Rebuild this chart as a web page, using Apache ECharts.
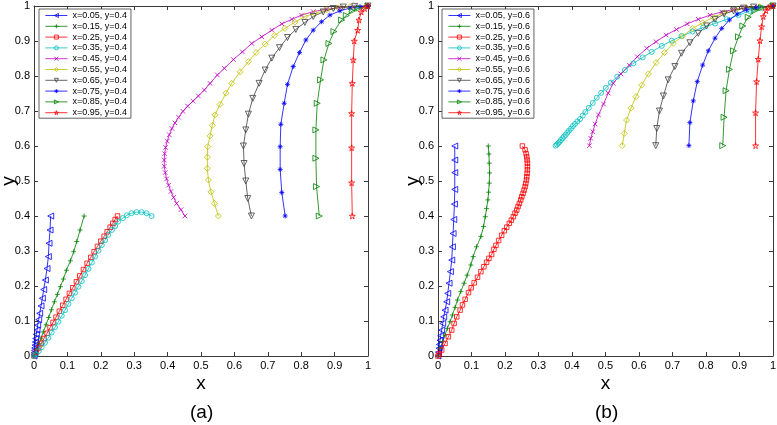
<!DOCTYPE html>
<html><head><meta charset="utf-8">
<script src="https://cdn.jsdelivr.net/npm/echarts@6/dist/echarts.min.js"></script>
<style>html,body{margin:0;padding:0;background:#fff}#c{width:777px;height:425px}</style>
</head><body><div id="c"></div>
<script>
// ---- Panel (a): initial y = 0.4 ----
const a05 = [[0.05,0.4],[0.048,0.36],[0.045,0.322],[0.043,0.284],[0.039,0.25],[0.034,0.217],[0.029,0.19],[0.025,0.165],[0.021,0.143],[0.017,0.122],[0.014,0.104],[0.011,0.088],[0.009,0.074],[0.007,0.062],[0.005,0.05],[0.004,0.04],[0.003,0.031],[0.002,0.023],[0.0015,0.016],[0.001,0.01],[0.0005,0.005],[0,0]];
const a15 = [[0.15,0.4],[0.138,0.36],[0.128,0.327],[0.119,0.298],[0.109,0.272],[0.097,0.245],[0.088,0.22],[0.079,0.198],[0.07,0.176],[0.061,0.155],[0.052,0.132],[0.044,0.11],[0.036,0.089],[0.028,0.069],[0.021,0.051],[0.015,0.035],[0.009,0.021],[0.004,0.009],[0,0]];
const a25 = [[0.25,0.4],[0.243,0.39],[0.236,0.379],[0.228,0.368],[0.219,0.355],[0.21,0.342],[0.2,0.328],[0.19,0.313],[0.18,0.298],[0.17,0.282],[0.159,0.265],[0.148,0.247],[0.137,0.229],[0.127,0.212],[0.116,0.195],[0.106,0.179],[0.096,0.162],[0.086,0.145],[0.076,0.128],[0.066,0.111],[0.057,0.096],[0.048,0.081],[0.039,0.065],[0.03,0.05],[0.022,0.036],[0.014,0.023],[0.007,0.011],[0,0]];
const a35 = [[0.352,0.4],[0.337,0.408],[0.322,0.411],[0.307,0.411],[0.292,0.408],[0.278,0.402],[0.266,0.394],[0.252,0.384],[0.243,0.371],[0.233,0.36],[0.222,0.346],[0.213,0.331],[0.203,0.317],[0.193,0.301],[0.183,0.284],[0.173,0.267],[0.163,0.249],[0.153,0.231],[0.143,0.214],[0.133,0.198],[0.123,0.181],[0.113,0.165],[0.103,0.149],[0.093,0.131],[0.083,0.115],[0.073,0.098],[0.063,0.082],[0.053,0.067],[0.043,0.052],[0.033,0.038],[0.023,0.025],[0.014,0.014],[0.006,0.005],[0,0]];
const a45 = [[0.452,0.4],[0.44,0.418],[0.427,0.436],[0.418,0.453],[0.41,0.47],[0.403,0.488],[0.397,0.506],[0.393,0.524],[0.39,0.542],[0.39,0.56],[0.391,0.578],[0.394,0.596],[0.399,0.614],[0.405,0.632],[0.413,0.65],[0.422,0.666],[0.433,0.682],[0.446,0.699],[0.46,0.714],[0.476,0.728],[0.492,0.743],[0.51,0.76],[0.527,0.779],[0.549,0.803],[0.57,0.822],[0.597,0.847],[0.624,0.869],[0.652,0.893],[0.682,0.912],[0.712,0.931],[0.742,0.949],[0.772,0.962],[0.801,0.974],[0.836,0.984],[0.876,0.991],[0.916,0.995],[0.955,0.998],[1,1]];
const a55 = [[0.552,0.4],[0.54,0.436],[0.53,0.469],[0.522,0.503],[0.519,0.536],[0.519,0.568],[0.52,0.598],[0.527,0.629],[0.534,0.659],[0.542,0.689],[0.557,0.719],[0.575,0.751],[0.592,0.779],[0.617,0.812],[0.642,0.841],[0.665,0.867],[0.692,0.891],[0.72,0.916],[0.751,0.936],[0.781,0.954],[0.811,0.97],[0.841,0.979],[0.876,0.989],[0.91,0.995],[0.946,0.998],[1,1]];
const a65 = [[0.651,0.4],[0.64,0.45],[0.634,0.5],[0.629,0.55],[0.627,0.6],[0.634,0.646],[0.642,0.691],[0.655,0.736],[0.674,0.779],[0.692,0.817],[0.712,0.851],[0.735,0.881],[0.759,0.91],[0.784,0.933],[0.811,0.953],[0.836,0.97],[0.866,0.983],[0.896,0.993],[0.926,0.997],[0.96,0.999],[1,1]];
const a75 = [[0.752,0.4],[0.742,0.467],[0.737,0.533],[0.737,0.598],[0.739,0.662],[0.749,0.722],[0.759,0.776],[0.776,0.827],[0.795,0.867],[0.814,0.903],[0.836,0.931],[0.861,0.955],[0.886,0.974],[0.916,0.986],[0.946,0.994],[0.976,0.998],[1,1]];
const a85 = [[0.854,0.4],[0.846,0.484],[0.844,0.565],[0.844,0.646],[0.848,0.722],[0.858,0.789],[0.868,0.846],[0.883,0.893],[0.898,0.927],[0.921,0.96],[0.935,0.973],[0.953,0.986],[0.973,0.994],[1,1]];
const a95 = [[0.953,0.4],[0.951,0.495],[0.951,0.595],[0.951,0.693],[0.953,0.779],[0.956,0.846],[0.959,0.9],[0.969,0.931],[0.973,0.96],[0.98,0.983],[0.99,0.993],[1,1]];

// ---- Panel (b): initial y = 0.6 ----
const b05 = [[0.05,0.6],[0.05,0.56],[0.05,0.524],[0.05,0.476],[0.049,0.434],[0.047,0.39],[0.045,0.35],[0.043,0.312],[0.041,0.274],[0.037,0.241],[0.033,0.208],[0.029,0.179],[0.026,0.155],[0.021,0.131],[0.017,0.112],[0.014,0.093],[0.011,0.074],[0.008,0.058],[0.006,0.045],[0.004,0.033],[0.003,0.022],[0.0015,0.011],[0,0]];
const b15 = [[0.15,0.6],[0.152,0.577],[0.153,0.551],[0.154,0.523],[0.153,0.494],[0.151,0.468],[0.149,0.446],[0.145,0.421],[0.141,0.398],[0.136,0.37],[0.128,0.341],[0.115,0.312],[0.105,0.284],[0.098,0.26],[0.087,0.231],[0.078,0.208],[0.068,0.184],[0.058,0.16],[0.051,0.139],[0.043,0.117],[0.036,0.098],[0.028,0.079],[0.021,0.06],[0.014,0.041],[0.006,0.022],[0,0]];
const b25 = [[0.252,0.6],[0.26,0.589],[0.263,0.578],[0.265,0.569],[0.266,0.56],[0.267,0.551],[0.267,0.541],[0.267,0.532],[0.266,0.522],[0.265,0.512],[0.264,0.503],[0.262,0.493],[0.26,0.484],[0.257,0.474],[0.254,0.465],[0.25,0.455],[0.247,0.446],[0.243,0.436],[0.239,0.427],[0.235,0.417],[0.23,0.408],[0.225,0.398],[0.219,0.388],[0.213,0.379],[0.205,0.368],[0.198,0.358],[0.19,0.345],[0.181,0.33],[0.173,0.316],[0.167,0.305],[0.16,0.29],[0.152,0.279],[0.145,0.268],[0.137,0.255],[0.128,0.241],[0.118,0.225],[0.108,0.209],[0.099,0.195],[0.091,0.181],[0.081,0.162],[0.073,0.146],[0.066,0.131],[0.056,0.112],[0.048,0.093],[0.041,0.074],[0.031,0.055],[0.021,0.036],[0.011,0.017],[0.004,0.006],[0,0]];
const b35 = [[0.351,0.601],[0.355,0.604],[0.359,0.608],[0.363,0.612],[0.367,0.617],[0.372,0.622],[0.376,0.627],[0.381,0.632],[0.386,0.638],[0.391,0.644],[0.397,0.65],[0.403,0.657],[0.409,0.663],[0.416,0.67],[0.424,0.677],[0.432,0.687],[0.44,0.697],[0.45,0.709],[0.462,0.723],[0.474,0.738],[0.487,0.752],[0.501,0.766],[0.516,0.781],[0.535,0.798],[0.558,0.817],[0.583,0.836],[0.611,0.853],[0.638,0.869],[0.668,0.886],[0.698,0.901],[0.727,0.914],[0.76,0.927],[0.792,0.939],[0.827,0.95],[0.862,0.962],[0.897,0.974],[0.931,0.986],[0.966,0.995],[1,1]];
const b45 = [[0.452,0.601],[0.456,0.622],[0.462,0.641],[0.469,0.663],[0.479,0.689],[0.494,0.72],[0.508,0.751],[0.523,0.779],[0.546,0.806],[0.571,0.831],[0.595,0.855],[0.623,0.879],[0.651,0.898],[0.681,0.917],[0.712,0.933],[0.744,0.949],[0.777,0.962],[0.812,0.974],[0.847,0.983],[0.882,0.99],[0.917,0.994],[0.952,0.997],[1,1]];
const b55 = [[0.55,0.601],[0.556,0.636],[0.563,0.674],[0.576,0.708],[0.591,0.741],[0.608,0.774],[0.628,0.806],[0.651,0.838],[0.676,0.867],[0.702,0.893],[0.73,0.914],[0.76,0.936],[0.79,0.952],[0.822,0.968],[0.854,0.98],[0.889,0.989],[0.921,0.995],[0.96,0.998],[1,1]];
const b65 = [[0.65,0.601],[0.653,0.65],[0.661,0.7],[0.673,0.743],[0.687,0.789],[0.707,0.827],[0.727,0.865],[0.752,0.895],[0.777,0.922],[0.802,0.943],[0.827,0.962],[0.854,0.977],[0.882,0.986],[0.912,0.994],[0.942,0.997],[1,1]];
const b75 = [[0.749,0.601],[0.752,0.667],[0.762,0.729],[0.774,0.784],[0.79,0.831],[0.807,0.872],[0.827,0.908],[0.847,0.936],[0.87,0.96],[0.893,0.977],[0.921,0.989],[0.95,0.995],[1,1]];
const b85 = [[0.85,0.601],[0.854,0.682],[0.86,0.758],[0.87,0.819],[0.882,0.872],[0.897,0.912],[0.91,0.943],[0.926,0.968],[0.946,0.987],[0.966,0.995],[1,1]];
const b95 = [[0.948,0.601],[0.948,0.695],[0.951,0.784],[0.956,0.848],[0.961,0.901],[0.966,0.941],[0.971,0.97],[0.979,0.987],[0.986,0.996],[1,1]];

const xLabelsA = ['0.05','0.15','0.25','0.35','0.45','0.55','0.65','0.75','0.85','0.95'];
const namesA = xLabelsA.map(v => 'x=' + v + ', y=0.4');
const namesB = xLabelsA.map(v => 'x=' + v + ', y=0.6');
const dataA = [a05,a15,a25,a35,a45,a55,a65,a75,a85,a95];
const dataB = [b05,b15,b25,b35,b45,b55,b65,b75,b85,b95];

const colors = ['#0000ff','#008000','#ff0000','#00bfbf','#bf00bf','#bfbf00','#404040','#0000ff','#008000','#ff0000'];
const symbols = [
  'path://M0,5L10,0L10,10Z',
  'path://M5,0L5,10M0,5L10,5',
  'rect',
  'circle',
  'path://M0,0L10,10M10,0L0,10',
  'diamond',
  'path://M0,0L10,0L5,10Z',
  'path://M5,0L5,10M0,5L10,5M1.5,1.5L8.5,8.5M8.5,1.5L1.5,8.5',
  'path://M10,5L0,0L0,10Z',
  'path://M50,0L61,35L98,35L68,57L79,91L50,70L21,91L32,57L2,35L39,35Z'
];
const sizes = [6,5,4.5,5,4.5,6,6,5,6,6];

const FONT = 'Liberation Sans, Arial, Helvetica, sans-serif';
const AX = '#3a3a3a';

function xAx(g, pos, lab){
  return {type:'value', gridIndex:g, position:pos, min:0, max:1, interval:0.1,
    axisLine:{show:true, onZero:false, lineStyle:{color:AX, width:1}},
    axisTick:{show:true, inside:true, length:4, lineStyle:{color:AX}},
    axisLabel:{show:lab, color:'#000', fontSize:11, margin:4, fontFamily:FONT},
    splitLine:{show:false},
    name: lab ? 'x' : '', nameLocation:'middle', nameGap:18, nameMoveOverlap:false,
    nameTextStyle:{fontSize:19, color:'#000', fontFamily:FONT}};
}
function yAx(g, pos, lab){
  return {type:'value', gridIndex:g, position:pos, min:0, max:1, interval:0.1,
    axisLine:{show:true, onZero:false, lineStyle:{color:AX, width:1}},
    axisTick:{show:true, inside:true, length:4, lineStyle:{color:AX}},
    axisLabel:{show:lab, color:'#000', fontSize:11, margin:4, fontFamily:FONT},
    splitLine:{show:false},
    name: lab ? 'y' : '', nameLocation:'middle', nameGap:16, nameMoveOverlap:false,
    nameTextStyle:{fontSize:19, color:'#000', fontFamily:FONT}};
}

const series = [];
function addSeries(data, names, g){
  data.forEach((d, i) => {
    series.push({
      type:'line', name:names[i], xAxisIndex:g*2, yAxisIndex:g*2, data:d,
      symbol:symbols[i], symbolSize:sizes[i], clip:false,
      lineStyle:{color:colors[i], width:0.8},
      itemStyle:{color:'rgba(0,0,0,0)', borderColor:colors[i], borderWidth:0.8},
      emphasis:{disabled:true}, z:2
    });
  });
}
addSeries(dataA, namesA, 0);
addSeries(dataB, namesB, 1);

function legend(left, names){
  return {left:left, top:9, orient:'vertical', data:names, selectedMode:false,
    itemWidth:22, itemHeight:5, itemGap:1.8, padding:[2,4,1,6],
    backgroundColor:'#fff', borderColor:AX, borderWidth:0.8,
    itemStyle:{color:'rgba(0,0,0,0)', borderColor:'inherit', borderWidth:0.8},
    lineStyle:{width:0.8},
    textStyle:{fontSize:9, lineHeight:9, color:'#000', fontFamily:FONT}};
}

const chart = echarts.init(document.getElementById('c'), null, {renderer:'canvas'});
chart.setOption({
  animation:false,
  backgroundColor:'#fff',
  grid:[{left:34, top:6, width:334, height:350, containLabel:false, outerBoundsMode:'none'},
        {left:438, top:6, width:335, height:350, containLabel:false, outerBoundsMode:'none'}],
  xAxis:[xAx(0,'bottom',true), xAx(0,'top',false), xAx(1,'bottom',true), xAx(1,'top',false)],
  yAxis:[yAx(0,'left',true), yAx(0,'right',false), yAx(1,'left',true), yAx(1,'right',false)],
  legend:[legend(39, namesA), legend(442, namesB)],
  graphic:[
    {type:'text', left:190, top:403, style:{text:'(a)', fontSize:19, fill:'#000', fontFamily:FONT}},
    {type:'text', left:595, top:403, style:{text:'(b)', fontSize:19, fill:'#000', fontFamily:FONT}}
  ],
  series:series
});
</script></body></html>
